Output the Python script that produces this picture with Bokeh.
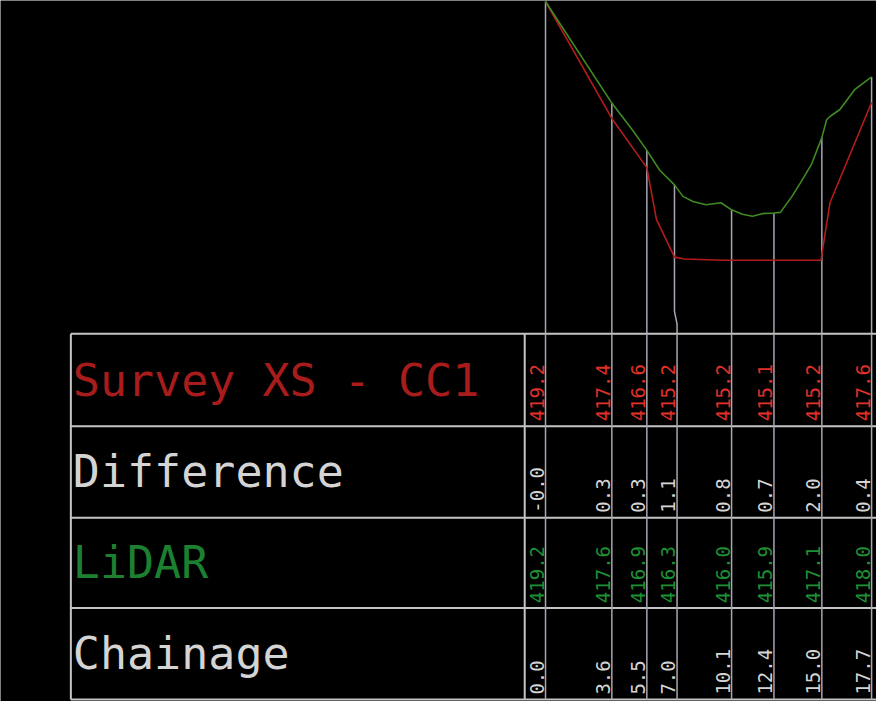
import math
from bokeh.plotting import figure
from bokeh.models import Range1d
from bokeh.core.properties import value
from bokeh.embed import file_html
from bokeh.resources import INLINE

# ---- table data ----
chainage = [0.0, 3.6, 5.5, 7.0, 10.1, 12.4, 15.0, 17.7]
column_x = [0.0, 3.6, 5.5, 7.14, 10.1, 12.4, 15.0, 17.7]  # grid line position in the table
survey_vals = ["419.2", "417.4", "416.6", "415.2", "415.2", "415.1", "415.2", "417.6"]
difference_vals = ["-0.0", "0.3", "0.3", "1.1", "0.8", "0.7", "2.0", "0.4"]
lidar_vals = ["419.2", "417.6", "416.9", "416.3", "416.0", "415.9", "417.1", "418.0"]
chainage_labels = ["0.0", "3.6", "5.5", "7.0", "10.1", "12.4", "15.0", "17.7"]
row_titles = ["Survey XS - CC1", "Difference", "LiDAR", "Chainage"]

# ---- profile data ----
survey_ch = [0.0, 3.6, 5.5, 6.02, 7.0, 7.55, 9.61, 12.4, 14.95, 15.44, 17.7]
survey_el = [419.2, 417.37, 416.6, 415.79, 415.2, 415.17, 415.15, 415.15, 415.15, 416.05, 417.62]
lidar_ch = [0.0, 3.6, 4.77, 5.5, 6.2, 7.0, 7.46, 8.0, 8.71, 9.52, 10.1, 10.69, 11.23,
            11.76, 12.4, 12.75, 13.38, 13.92, 14.45, 15.0, 15.26, 15.44, 15.98, 16.78, 17.23, 17.7]
lidar_el = [419.2, 417.61, 417.17, 416.87, 416.56, 416.33, 416.15, 416.07, 416.02, 416.05, 415.94,
            415.87, 415.84, 415.88, 415.89, 415.9, 416.15, 416.4, 416.66, 417.07, 417.35, 417.4,
            417.51, 417.82, 417.92, 418.02]
lidar_at_station = [419.2, 417.61, 416.87, 416.33, 415.94, 415.89, 417.07, 418.02]
datum = 414.0

# ---- layout (reference pixel frame) ----
W, H = 876, 701
BG = "#000000"
GRID = "#c4c4c4"
LEADER = "#a9a5b5"
RED_LINE = "#b41c1c"
GREEN_LINE = "#3f8a22"
RED_TXT = "#e0302a"
RED_TITLE = "#a81c1c"
GREEN_TXT = "#1e9034"
GREEN_TITLE = "#1c8030"
WHITE_TXT = "#d4d4d4"
FONT = "DejaVu Sans Mono"

px_per_m = 18.59
x0_ref = 558.0
px_per_el = 65.0
y_top_el = 419.2 + (5 - 4) / px_per_el
y_bot_el = 419.2 - (717 - 5) / px_per_el

p = figure(width=W, height=H, output_backend="svg", toolbar_location=None,
           x_range=Range1d((8 - x0_ref) / px_per_m, (892 - x0_ref) / px_per_m),
           y_range=Range1d(y_bot_el, y_top_el),
           min_border=0, background_fill_color=BG, border_fill_color=BG,
           outline_line_color=None)
p.axis.visible = False
p.xgrid.visible = False
p.ygrid.visible = False
p.extra_y_ranges = {"tbl": Range1d(717, 4)}
p.extra_x_ranges = {"px": Range1d(8, 892)}

# leader lines from profile down to the datum (table top)
xs, ys = [], []
for c, cx, e in zip(chainage, column_x, lidar_at_station):
    if abs(cx - c) > 1e-6:
        xs.append([c, c, cx, cx])
        ys.append([e, datum + 0.35, datum + 0.15, datum])
    else:
        xs.append([c, c])
        ys.append([e, datum])
p.multi_line(xs, ys, line_color=LEADER, line_width=1.5)

# profiles
p.line(survey_ch, survey_el, line_color=RED_LINE, line_width=1.6)
p.line(lidar_ch, lidar_el, line_color=GREEN_LINE, line_width=1.6)

# table grid
row_lines = [343, 437, 530, 622, 715]
tbl_left, tbl_head, tbl_right = 79, 537, 892
p.segment(x0=[tbl_left] * len(row_lines), x1=[tbl_right] * len(row_lines),
          y0=row_lines, y1=row_lines, x_range_name="px", y_range_name="tbl",
          line_color=GRID, line_width=2)
p.segment(x0=[tbl_left, tbl_head], x1=[tbl_left, tbl_head],
          y0=[row_lines[0]] * 2, y1=[row_lines[-1]] * 2,
          x_range_name="px", y_range_name="tbl", line_color=GRID, line_width=2)
p.segment(x0=column_x, x1=column_x, y0=[row_lines[0]] * len(column_x),
          y1=[row_lines[-1]] * len(column_x), y_range_name="tbl",
          line_color=LEADER, line_width=1.5)

# row titles (vertically centred in each row)
title_colors = [RED_TITLE, WHITE_TXT, GREEN_TITLE, WHITE_TXT]
title_y = [(a + b) / 2 for a, b in zip(row_lines[:-1], row_lines[1:])]
p.text(x=[81] * 4, y=title_y, text=row_titles, x_range_name="px", y_range_name="tbl",
       text_color=title_colors, text_font=value(FONT), text_font_size="45px",
       text_align="left", text_baseline="middle")

# values (rotated, just left of each column line)
rows = [(survey_vals, RED_TXT), (difference_vals, WHITE_TXT),
        (lidar_vals, GREEN_TXT), (chainage_labels, WHITE_TXT)]
for i, (vals, col) in enumerate(rows):
    ybase = row_lines[i + 1] - 5
    p.text(x=column_x, y=[ybase] * len(vals), text=vals, y_range_name="tbl",
           angle=math.pi / 2, x_offset=-9, text_color=col, text_font=value(FONT),
           text_font_size="19px", text_align="left", text_baseline="middle")

open("out.html", "w").write(file_html(p, INLINE))
